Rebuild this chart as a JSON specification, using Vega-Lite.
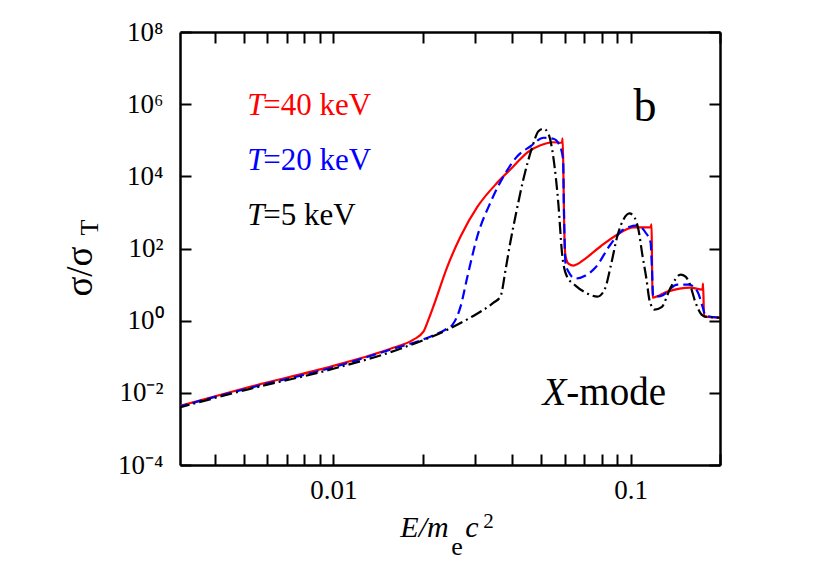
{
  "$schema": "https://vega.github.io/schema/vega-lite/v6.json",
  "width": 540,
  "height": 433,
  "autosize": {"type": "none"},
  "padding": {"left": 180, "top": 32, "right": 110, "bottom": 116},
  "background": "white",
  "config": {"view": {"stroke": null}, "font": "Liberation Serif, Times New Roman, serif"},
  "resolve": {"axis": {"x": "independent", "y": "independent"}},
  "datasets": {
    "curves": [
      {"s": "40", "x": 0.003, "y": 0.0042},
      {"s": "40", "x": 0.00525, "y": 0.0147},
      {"s": "40", "x": 0.01, "y": 0.056},
      {"s": "40", "x": 0.01556, "y": 0.167},
      {"s": "40", "x": 0.0186, "y": 0.297},
      {"s": "40", "x": 0.0201, "y": 0.495},
      {"s": "40", "x": 0.0209, "y": 1.07},
      {"s": "40", "x": 0.0217, "y": 2.45},
      {"s": "40", "x": 0.0242, "y": 31.6},
      {"s": "40", "x": 0.0268, "y": 215},
      {"s": "40", "x": 0.0306, "y": 1468},
      {"s": "40", "x": 0.0357, "y": 6810},
      {"s": "40", "x": 0.0404, "y": 18960},
      {"s": "40", "x": 0.045, "y": 46400},
      {"s": "40", "x": 0.0498, "y": 72600},
      {"s": "40", "x": 0.055, "y": 88000},
      {"s": "40", "x": 0.0588, "y": 85200},
      {"s": "40", "x": 0.0591, "y": 113600},
      {"s": "40", "x": 0.0595, "y": 8000},
      {"s": "40", "x": 0.0598, "y": 500},
      {"s": "40", "x": 0.0604, "y": 64},
      {"s": "40", "x": 0.0618, "y": 38.3},
      {"s": "40", "x": 0.0643, "y": 33.7},
      {"s": "40", "x": 0.0705, "y": 52.7},
      {"s": "40", "x": 0.0792, "y": 113.6},
      {"s": "40", "x": 0.0904, "y": 245},
      {"s": "40", "x": 0.1023, "y": 383},
      {"s": "40", "x": 0.1168, "y": 383},
      {"s": "40", "x": 0.1177, "y": 464},
      {"s": "40", "x": 0.1181, "y": 49.5},
      {"s": "40", "x": 0.1186, "y": 4.35},
      {"s": "40", "x": 0.1332, "y": 6.4},
      {"s": "40", "x": 0.159, "y": 8.25},
      {"s": "40", "x": 0.1747, "y": 7.26},
      {"s": "40", "x": 0.1754, "y": 10.7},
      {"s": "40", "x": 0.1768, "y": 1.29},
      {"s": "40", "x": 0.2, "y": 1.21},
      {"s": "20", "x": 0.003, "y": 0.00408},
      {"s": "20", "x": 0.00525, "y": 0.0138},
      {"s": "20", "x": 0.01, "y": 0.0511},
      {"s": "20", "x": 0.01556, "y": 0.157},
      {"s": "20", "x": 0.0212, "y": 0.36},
      {"s": "20", "x": 0.0238, "y": 0.562},
      {"s": "20", "x": 0.0252, "y": 0.774},
      {"s": "20", "x": 0.0268, "y": 2.45},
      {"s": "20", "x": 0.02827, "y": 16.7},
      {"s": "20", "x": 0.0305, "y": 215},
      {"s": "20", "x": 0.0338, "y": 1896},
      {"s": "20", "x": 0.0374, "y": 10000},
      {"s": "20", "x": 0.0416, "y": 35900},
      {"s": "20", "x": 0.0461, "y": 68100},
      {"s": "20", "x": 0.051, "y": 117300},
      {"s": "20", "x": 0.055, "y": 110100},
      {"s": "20", "x": 0.0577, "y": 72600},
      {"s": "20", "x": 0.0593, "y": 29700},
      {"s": "20", "x": 0.0597, "y": 1212},
      {"s": "20", "x": 0.0604, "y": 40.8},
      {"s": "20", "x": 0.0618, "y": 23},
      {"s": "20", "x": 0.0653, "y": 14.7},
      {"s": "20", "x": 0.0706, "y": 17.8},
      {"s": "20", "x": 0.0762, "y": 29.7},
      {"s": "20", "x": 0.0856, "y": 129},
      {"s": "20", "x": 0.0947, "y": 337},
      {"s": "20", "x": 0.1056, "y": 435},
      {"s": "20", "x": 0.1123, "y": 278},
      {"s": "20", "x": 0.1168, "y": 147},
      {"s": "20", "x": 0.1181, "y": 26.1},
      {"s": "20", "x": 0.1192, "y": 4.64},
      {"s": "20", "x": 0.1262, "y": 4.8},
      {"s": "20", "x": 0.1439, "y": 10},
      {"s": "20", "x": 0.1568, "y": 10},
      {"s": "20", "x": 0.168, "y": 6.4},
      {"s": "20", "x": 0.1747, "y": 2.45},
      {"s": "20", "x": 0.1789, "y": 1.38},
      {"s": "20", "x": 0.2, "y": 1.21},
      {"s": "5", "x": 0.003, "y": 0.00383},
      {"s": "5", "x": 0.00525, "y": 0.0129},
      {"s": "5", "x": 0.01, "y": 0.0464},
      {"s": "5", "x": 0.01681, "y": 0.167},
      {"s": "5", "x": 0.0242, "y": 0.562},
      {"s": "5", "x": 0.0289, "y": 1.21},
      {"s": "5", "x": 0.0346, "y": 3.16},
      {"s": "5", "x": 0.0365, "y": 4.64},
      {"s": "5", "x": 0.038, "y": 26.1},
      {"s": "5", "x": 0.0394, "y": 147},
      {"s": "5", "x": 0.041, "y": 774},
      {"s": "5", "x": 0.0436, "y": 8250},
      {"s": "5", "x": 0.0468, "y": 68100},
      {"s": "5", "x": 0.049, "y": 178000},
      {"s": "5", "x": 0.051, "y": 208500},
      {"s": "5", "x": 0.053, "y": 147000},
      {"s": "5", "x": 0.055, "y": 33700},
      {"s": "5", "x": 0.0572, "y": 1668},
      {"s": "5", "x": 0.0588, "y": 77.4},
      {"s": "5", "x": 0.0609, "y": 17.8},
      {"s": "5", "x": 0.0653, "y": 9.38},
      {"s": "5", "x": 0.0706, "y": 6.0},
      {"s": "5", "x": 0.0774, "y": 4.64},
      {"s": "5", "x": 0.0818, "y": 7.26},
      {"s": "5", "x": 0.0863, "y": 40.8},
      {"s": "5", "x": 0.0904, "y": 230},
      {"s": "5", "x": 0.0947, "y": 639},
      {"s": "5", "x": 0.0992, "y": 938},
      {"s": "5", "x": 0.1031, "y": 727},
      {"s": "5", "x": 0.1063, "y": 337},
      {"s": "5", "x": 0.1097, "y": 64},
      {"s": "5", "x": 0.1132, "y": 13.8},
      {"s": "5", "x": 0.1159, "y": 3.59},
      {"s": "5", "x": 0.1204, "y": 2.02},
      {"s": "5", "x": 0.1272, "y": 2.37},
      {"s": "5", "x": 0.1364, "y": 8.25},
      {"s": "5", "x": 0.1474, "y": 19.0},
      {"s": "5", "x": 0.1532, "y": 16.7},
      {"s": "5", "x": 0.158, "y": 10.7},
      {"s": "5", "x": 0.1655, "y": 3.16},
      {"s": "5", "x": 0.1734, "y": 1.47},
      {"s": "5", "x": 0.1789, "y": 1.29},
      {"s": "5", "x": 0.2, "y": 1.21}
    ],
    "legendT": [
      {"s": "40", "x": 0.005133, "y": 494000},
      {"s": "20", "x": 0.005133, "y": 14680},
      {"s": "5", "x": 0.005133, "y": 435}
    ],
    "legendRest": [
      {"s": "40", "t": "=40 keV", "x": 0.00581, "y": 494000},
      {"s": "20", "t": "=20 keV", "x": 0.00581, "y": 14680},
      {"s": "5", "t": "=5 keV", "x": 0.00581, "y": 435}
    ]
  },
  "layer": [
    {
      "data": {"name": "curves"},
      "transform": [{"filter": "datum.s == '40'"}],
      "mark": {"type": "line", "color": "#ff0000", "strokeWidth": 2.2, "interpolate": "monotone", "clip": true},
      "encoding": {
        "x": {"field": "x", "type": "quantitative",
          "scale": {"type": "log", "domain": [0.00305, 0.2], "nice": false},
          "axis": {"orient": "bottom", "title": null,
            "values": [0.004, 0.005, 0.006, 0.007, 0.008, 0.009, 0.01, 0.02, 0.03, 0.04, 0.05, 0.06, 0.07, 0.08, 0.09, 0.1, 0.2],
            "labelExpr": "datum.value == 0.01 ? '0.01' : (datum.value == 0.1 ? '0.1' : '')",
            "labelFont": "Liberation Serif, Times New Roman, serif", "labelFontSize": 27, "labelColor": "black",
            "labelPadding": 23, "labelFlush": false, "labelOverlap": false,
            "tickSize": -11, "tickWidth": 2, "tickColor": "black",
            "domainColor": "black", "domainWidth": 2.5, "grid": false}},
        "y": {"field": "y", "type": "quantitative",
          "scale": {"type": "log", "domain": [0.0001, 100000000], "nice": false},
          "axis": {"orient": "left", "title": null,
            "values": [0.0001, 0.01, 1, 100, 10000, 1000000, 100000000],
            "labelExpr": "datum.value < 0.001 ? '10⁻⁴' : datum.value < 0.1 ? '10⁻²' : datum.value < 10 ? '10⁰' : datum.value < 1000 ? '10²' : datum.value < 100000 ? '10⁴' : datum.value < 10000000 ? '10⁶' : '10⁸'",
            "labelFont": "Liberation Serif, Times New Roman, serif", "labelFontSize": 27, "labelColor": "black",
            "labelPadding": 28, "labelFlush": false, "labelOverlap": false,
            "tickSize": -11, "tickWidth": 2, "tickColor": "black",
            "domainColor": "black", "domainWidth": 2.5, "grid": false}}
      }
    },
    {
      "data": {"name": "curves"},
      "transform": [{"filter": "datum.s == '20'"}],
      "mark": {"type": "line", "color": "#0000ff", "strokeWidth": 2.2, "strokeDash": [10, 5], "interpolate": "monotone", "clip": true},
      "encoding": {
        "x": {"field": "x", "type": "quantitative", "scale": {"type": "log", "domain": [0.00305, 0.2], "nice": false}, "axis": null},
        "y": {"field": "y", "type": "quantitative", "scale": {"type": "log", "domain": [0.0001, 100000000], "nice": false}, "axis": null}
      }
    },
    {
      "data": {"name": "curves"},
      "transform": [{"filter": "datum.s == '5'"}],
      "mark": {"type": "line", "color": "#000000", "strokeWidth": 2.2, "strokeDash": [12, 4, 2, 4], "interpolate": "monotone", "clip": true},
      "encoding": {
        "x": {"field": "x", "type": "quantitative",
          "scale": {"type": "log", "domain": [0.00305, 0.2], "nice": false},
          "axis": {"orient": "top", "title": null, "labels": false,
            "values": [0.004, 0.005, 0.006, 0.007, 0.008, 0.009, 0.01, 0.02, 0.03, 0.04, 0.05, 0.06, 0.07, 0.08, 0.09, 0.1, 0.2],
            "tickSize": -11, "tickWidth": 2, "tickColor": "black",
            "domainColor": "black", "domainWidth": 2.5, "grid": false}},
        "y": {"field": "y", "type": "quantitative",
          "scale": {"type": "log", "domain": [0.0001, 100000000], "nice": false},
          "axis": {"orient": "right", "title": null, "labels": false,
            "values": [0.0001, 0.01, 1, 100, 10000, 1000000, 100000000],
            "tickSize": -11, "tickWidth": 2, "tickColor": "black",
            "domainColor": "black", "domainWidth": 2.5, "grid": false}}
      }
    },
    {
      "data": {"name": "legendT"},
      "mark": {"type": "text", "text": "T", "font": "Liberation Serif, Times New Roman, serif", "fontStyle": "italic", "fontSize": 31, "align": "left", "baseline": "alphabetic"},
      "encoding": {
        "x": {"field": "x", "type": "quantitative", "scale": {"type": "log", "domain": [0.00305, 0.2], "nice": false}, "axis": null},
        "y": {"field": "y", "type": "quantitative", "scale": {"type": "log", "domain": [0.0001, 100000000], "nice": false}, "axis": null},
        "color": {"field": "s", "type": "nominal", "scale": {"domain": ["40", "20", "5"], "range": ["#ff0000", "#0000ff", "#000000"]}, "legend": null}
      }
    },
    {
      "data": {"name": "legendRest"},
      "mark": {"type": "text", "font": "Liberation Serif, Times New Roman, serif", "fontSize": 31, "align": "left", "baseline": "alphabetic"},
      "encoding": {
        "x": {"field": "x", "type": "quantitative", "scale": {"type": "log", "domain": [0.00305, 0.2], "nice": false}, "axis": null},
        "y": {"field": "y", "type": "quantitative", "scale": {"type": "log", "domain": [0.0001, 100000000], "nice": false}, "axis": null},
        "text": {"field": "t"},
        "color": {"field": "s", "type": "nominal", "scale": {"domain": ["40", "20", "5"], "range": ["#ff0000", "#0000ff", "#000000"]}, "legend": null}
      }
    },
    {
      "data": {"values": [{"t": "b", "x": 0.1023, "y": 337000}]},
      "mark": {"type": "text", "font": "Liberation Serif, Times New Roman, serif", "fontSize": 46, "align": "left", "baseline": "alphabetic", "color": "black"},
      "encoding": {
        "x": {"field": "x", "type": "quantitative", "scale": {"type": "log", "domain": [0.00305, 0.2], "nice": false}, "axis": null},
        "y": {"field": "y", "type": "quantitative", "scale": {"type": "log", "domain": [0.0001, 100000000], "nice": false}, "axis": null},
        "text": {"field": "t"}
      }
    },
    {
      "data": {"values": [{"t": "X", "x": 0.05053, "y": 0.004642}]},
      "mark": {"type": "text", "font": "Liberation Serif, Times New Roman, serif", "fontStyle": "italic", "fontSize": 39, "align": "left", "baseline": "alphabetic", "color": "black"},
      "encoding": {
        "x": {"field": "x", "type": "quantitative", "scale": {"type": "log", "domain": [0.00305, 0.2], "nice": false}, "axis": null},
        "y": {"field": "y", "type": "quantitative", "scale": {"type": "log", "domain": [0.0001, 100000000], "nice": false}, "axis": null},
        "text": {"field": "t"}
      }
    },
    {
      "data": {"values": [{"t": "-mode", "x": 0.06081, "y": 0.004642}]},
      "mark": {"type": "text", "font": "Liberation Serif, Times New Roman, serif", "fontSize": 39, "align": "left", "baseline": "alphabetic", "color": "black"},
      "encoding": {
        "x": {"field": "x", "type": "quantitative", "scale": {"type": "log", "domain": [0.00305, 0.2], "nice": false}, "axis": null},
        "y": {"field": "y", "type": "quantitative", "scale": {"type": "log", "domain": [0.0001, 100000000], "nice": false}, "axis": null},
        "text": {"field": "t"}
      }
    },
    {
      "data": {"values": [{"t": "E/m", "x": 0.01681, "y": 0.000001}, {"t": "c", "x": 0.0278, "y": 0.000001}]},
      "mark": {"type": "text", "font": "Liberation Serif, Times New Roman, serif", "fontStyle": "italic", "fontSize": 30, "align": "left", "baseline": "alphabetic", "color": "black"},
      "encoding": {
        "x": {"field": "x", "type": "quantitative", "scale": {"type": "log", "domain": [0.00305, 0.2], "nice": false}, "axis": null},
        "y": {"field": "y", "type": "quantitative", "scale": {"type": "log", "domain": [0.0001, 100000000], "nice": false}, "axis": null},
        "text": {"field": "t"}
      }
    },
    {
      "data": {"values": [{"t": "e", "x": 0.02495, "y": 0.000000316}]},
      "mark": {"type": "text", "font": "Liberation Serif, Times New Roman, serif", "fontSize": 26, "align": "left", "baseline": "alphabetic", "color": "black"},
      "encoding": {
        "x": {"field": "x", "type": "quantitative", "scale": {"type": "log", "domain": [0.00305, 0.2], "nice": false}, "axis": null},
        "y": {"field": "y", "type": "quantitative", "scale": {"type": "log", "domain": [0.0001, 100000000], "nice": false}, "axis": null},
        "text": {"field": "t"}
      }
    },
    {
      "data": {"values": [{"t": "2", "x": 0.03197, "y": 0.00000178}]},
      "mark": {"type": "text", "font": "Liberation Serif, Times New Roman, serif", "fontSize": 21, "align": "left", "baseline": "alphabetic", "color": "black"},
      "encoding": {
        "x": {"field": "x", "type": "quantitative", "scale": {"type": "log", "domain": [0.00305, 0.2], "nice": false}, "axis": null},
        "y": {"field": "y", "type": "quantitative", "scale": {"type": "log", "domain": [0.0001, 100000000], "nice": false}, "axis": null},
        "text": {"field": "t"}
      }
    },
    {
      "data": {"values": [{"t": "σ/σ", "x": 0.001538, "y": 4.64}]},
      "mark": {"type": "text", "font": "Liberation Serif, Times New Roman, serif", "fontSize": 37, "angle": 270, "align": "left", "baseline": "alphabetic", "color": "black"},
      "encoding": {
        "x": {"field": "x", "type": "quantitative", "scale": {"type": "log", "domain": [0.00305, 0.2], "nice": false}, "axis": null},
        "y": {"field": "y", "type": "quantitative", "scale": {"type": "log", "domain": [0.0001, 100000000], "nice": false}, "axis": null},
        "text": {"field": "t"}
      }
    },
    {
      "data": {"values": [{"t": "T", "x": 0.001612, "y": 230}]},
      "mark": {"type": "text", "font": "Liberation Serif, Times New Roman, serif", "fontSize": 26, "angle": 270, "align": "left", "baseline": "alphabetic", "color": "black"},
      "encoding": {
        "x": {"field": "x", "type": "quantitative", "scale": {"type": "log", "domain": [0.00305, 0.2], "nice": false}, "axis": null},
        "y": {"field": "y", "type": "quantitative", "scale": {"type": "log", "domain": [0.0001, 100000000], "nice": false}, "axis": null},
        "text": {"field": "t"}
      }
    }
  ]
}
